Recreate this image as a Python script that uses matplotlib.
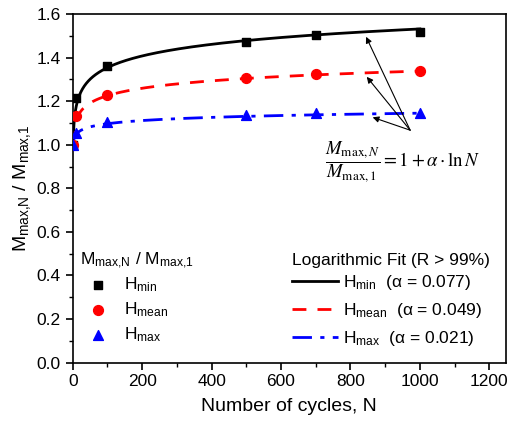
import numpy as np
import matplotlib
matplotlib.use('Agg')
from matplotlib import pyplot as plt
from matplotlib.ticker import MultipleLocator

plt.rcParams['font.family'] = ['Liberation Sans', 'DejaVu Sans']
plt.rcParams['mathtext.fontset'] = 'custom'
plt.rcParams['mathtext.rm'] = 'Liberation Sans'
plt.rcParams['mathtext.it'] = 'Liberation Sans:italic'
plt.rcParams['mathtext.bf'] = 'Liberation Sans:bold'

# number of cycles and normalised max moment per hardness level
cycles = [1, 10, 100, 500, 700, 1000]
h_min = [1.0, 1.213, 1.363, 1.471, 1.505, 1.519]
h_mean = [1.0, 1.133, 1.228, 1.305, 1.325, 1.337]
h_max = [1.0, 1.052, 1.103, 1.138, 1.144, 1.147]

# logarithmic fit coefficients, M_N / M_1 = 1 + alpha * ln N
alphas = [0.077, 0.049, 0.021]

fig, ax = plt.subplots(figsize=(5.09, 4.28), dpi=100)
fig.subplots_adjust(left=0.143, right=0.994, top=0.967, bottom=0.153)

n_fit = np.linspace(1, 1000, 2000)
fit_styles = [('black', '-'), ('red', (0, (5, 4))), ('blue', (0, (7, 3, 1.5, 3)))]
fit_names = ['min', 'mean', 'max']
fit_lines = []
for a, (c, ls), name in zip(alphas, fit_styles, fit_names):
    ln, = ax.plot(n_fit, 1 + a * np.log(n_fit), color=c, ls=ls, lw=2,
                  label=r'$\mathregular{H_{%s}}$  (α = %.3f)' % (name, a))
    fit_lines.append(ln)

pts = []
pts.append(ax.scatter(cycles, h_min, marker='s', s=40, color='black', zorder=3,
                      label=r'$\mathregular{H_{min}}$'))
pts.append(ax.scatter(cycles, h_mean, marker='o', s=50, color='red', zorder=3,
                      label=r'$\mathregular{H_{mean}}$'))
pts.append(ax.scatter(cycles, h_max, marker='^', s=50, color='blue', zorder=3,
                      label=r'$\mathregular{H_{max}}$'))

ax.set_xlim(0, 1248)
ax.set_ylim(0, 1.6)
ax.xaxis.set_major_locator(MultipleLocator(200))
ax.xaxis.set_minor_locator(MultipleLocator(100))
ax.yaxis.set_major_locator(MultipleLocator(0.2))
ax.yaxis.set_minor_locator(MultipleLocator(0.1))
ax.yaxis.set_major_formatter(matplotlib.ticker.FormatStrFormatter('%.1f'))
ax.tick_params(which='both', direction='out', labelsize=12.5)
ax.tick_params(which='major', length=5, width=1.2)
ax.tick_params(which='minor', length=3, width=1)
for sp in ax.spines.values():
    sp.set_linewidth(1.2)

ratio_label = r'$\mathregular{M_{max{,}N}}$ / $\mathregular{M_{max{,}1}}$'
ax.set_xlabel('Number of cycles, N', fontsize=14, labelpad=6)
ax.set_ylabel(ratio_label, fontsize=14, labelpad=3)

# arrows pointing from the fit equation to each curve
tail = (972, 1.067)
for tip in [(845, 1.496), (847, 1.312), (864, 1.126)]:
    ax.annotate('', xy=tip, xytext=tail,
                arrowprops=dict(arrowstyle='-|>', color='black', lw=0.8,
                                mutation_scale=9, shrinkA=0, shrinkB=0))

ax.text(950, 0.925, r'$\dfrac{M_{\max,N}}{M_{\max,1}} = 1 + \alpha \cdot \ln N$',
        fontsize=13.5, math_fontfamily='stix', ha='center', va='center')

leg1 = ax.legend(handles=pts, loc='upper left', bbox_to_anchor=(-0.015, 0.36),
                 title=ratio_label,
                 frameon=False, fontsize=12.5, title_fontsize=12.5,
                 handletextpad=0.5, labelspacing=0.36, borderpad=0.3)
leg1._legend_box.align = 'left'
leg1._legend_box.sep = 3
ax.add_artist(leg1)

leg2 = ax.legend(handles=fit_lines, loc='upper left', bbox_to_anchor=(0.475, 0.355),
                 title='Logarithmic Fit (R > 99%)', frameon=False,
                 fontsize=12.5, title_fontsize=12.5, handlelength=2.6,
                 handletextpad=0.3, labelspacing=0.52, borderpad=0.3)
leg2._legend_box.align = 'left'
leg2._legend_box.sep = 4

plt.savefig('out.png', dpi=100)
